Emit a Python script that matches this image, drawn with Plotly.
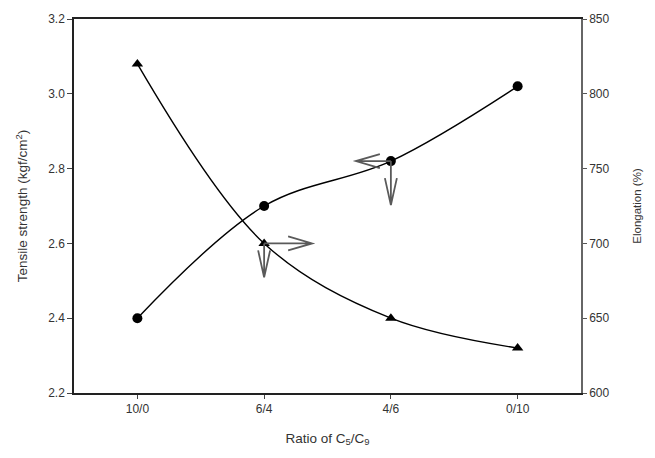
import plotly.graph_objects as go

categories = ["10/0", "6/4", "4/6", "0/10"]
tensile = [2.40, 2.70, 2.82, 3.02]
elongation = [820, 700, 650, 630]

left_ticks = [2.2, 2.4, 2.6, 2.8, 3.0, 3.2]
right_ticks = [600, 650, 700, 750, 800, 850]

xi = list(range(len(categories)))
FONT = "Liberation Sans, Arial, sans-serif"
TXT = "#333333"
ARROW = "#5a5a5a"

fig = go.Figure()
fig.add_trace(go.Scatter(
    x=xi, y=tensile, mode="lines+markers",
    line=dict(color="black", width=1.4, shape="spline", smoothing=1.0),
    marker=dict(symbol="circle", size=10, color="black"),
    showlegend=False, yaxis="y"))
fig.add_trace(go.Scatter(
    x=xi, y=elongation, mode="lines+markers",
    line=dict(color="black", width=1.4, shape="spline", smoothing=1.0),
    marker=dict(symbol="triangle-up", size=10, color="black"),
    showlegend=False, yaxis="y2"))


def arrow(xv, yv, yref, path):
    return dict(type="path", xref="x", yref=yref, xsizemode="pixel", ysizemode="pixel",
                xanchor=xv, yanchor=yv, path=path,
                line=dict(color=ARROW, width=1.8), layer="above")

i1 = categories.index("6/4")
i2 = categories.index("4/6")
shapes = [
    arrow(i1, elongation[i1], "y2", "M0,0 L48,0 M24,7 L48,0 L24,-7"),
    arrow(i1, elongation[i1], "y2", "M0,0 L0,-34 M-6,-7 L0,-34 L6,-7"),
    arrow(i2, tensile[i2], "y", "M0,0 L-35,0 M-11,7 L-35,0 L-11,-7"),
    arrow(i2, tensile[i2], "y", "M0,0 L0,-44 M-6,-17 L0,-44 L6,-17"),
]

fig.update_layout(
    width=655, height=458,
    margin=dict(l=74, r=74, t=13, b=65),
    paper_bgcolor="white", plot_bgcolor="white",
    font=dict(family=FONT, color=TXT, size=12),
    shapes=shapes,
    xaxis=dict(
        range=[-0.5, 3.5], tickvals=xi, ticktext=categories,
        showline=True, linecolor="#222222", linewidth=1.5, mirror=True,
        ticks="outside", ticklen=4, tickcolor="#444444", tickwidth=1,
        showgrid=False, zeroline=False,
        tickfont=dict(size=12, color=TXT),
        title=dict(text="Ratio of C<sub>5</sub>/C<sub>9</sub>", font=dict(size=13.5, color=TXT), standoff=18),
    ),
    yaxis=dict(
        range=[2.2, 3.2], tickvals=left_ticks, tickformat=".1f",
        showline=True, linecolor="#222222", linewidth=1.5,
        ticks="outside", ticklen=5, tickcolor="#444444", tickwidth=1,
        showgrid=False, zeroline=False,
        tickfont=dict(size=12, color=TXT),
        title=dict(text="Tensile strength (kgf/cm<sup>2</sup>)", font=dict(size=13.5, color=TXT), standoff=17),
    ),
    yaxis2=dict(
        range=[600, 850], tickvals=right_ticks, overlaying="y", side="right",
        showline=True, linecolor="#666666", linewidth=1.5,
        ticks="outside", ticklen=4, tickcolor="#555555", tickwidth=1,
        showgrid=False, zeroline=False,
        tickfont=dict(size=12, color=TXT),
        title=dict(text="Elongation (%)", font=dict(size=11.5, color=TXT), standoff=24),
    ),
)

fig.write_html("out.html", config={"displayModeBar": False},
               post_script="document.body.style.margin='0';document.body.style.padding='0';")
